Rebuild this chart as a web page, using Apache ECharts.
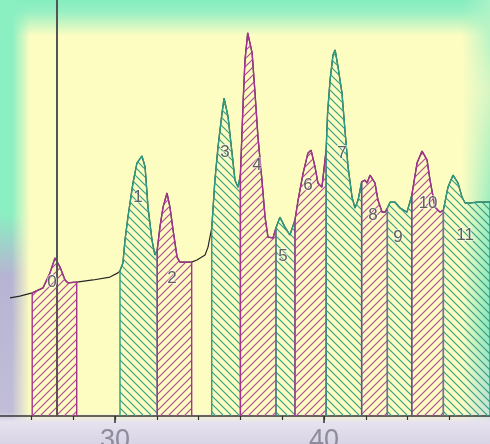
<!DOCTYPE html>
<html>
<head>
<meta charset="utf-8">
<script src="https://cdn.jsdelivr.net/npm/echarts@6/dist/echarts.min.js"></script>
<style>
html, body { margin: 0; padding: 0; }
#wrap { position: relative; width: 490px; height: 444px; overflow: hidden; background: #fdfdc2; }
.glow { position: absolute; }
#gTop { left: 0; top: 0; width: 490px; height: 40px;
  background: linear-gradient(to bottom, #84eebf 0, #98f0c3 12px, rgba(253,253,194,0) 36px); }
#gLeft { left: 0; top: 0; width: 40px; height: 444px;
  background: linear-gradient(to bottom, #8aefc1 0, #8aefc1 48%, #b6b4d2 62%, #c4c0da 100%);
  -webkit-mask-image: linear-gradient(to right, #000 0, #000 12px, transparent 30px);
  mask-image: linear-gradient(to right, #000 0, #000 12px, transparent 30px); }
#gRight { right: 0; top: 0; width: 40px; height: 444px;
  background: linear-gradient(to bottom, #a8f2c6 0, #d6f6c4 90px, #98ecbf 220px, #86e6bb 330px, #c4e2d6 410px);
  -webkit-mask-image: linear-gradient(to left, #000 0, rgba(0,0,0,.8) 6px, transparent 28px);
  mask-image: linear-gradient(to left, #000 0, rgba(0,0,0,.8) 6px, transparent 28px); }
#gBottom { left: 0; bottom: 0; width: 490px; height: 32px;
  background: linear-gradient(to top, #d8d4e6 0, #e6e2ee 22px, rgba(236,232,239,0) 32px); }
#chart { position: absolute; left: 0; top: 0; width: 490px; height: 444px; }
</style>
</head>
<body>
<div id="wrap">
  <div class="glow" id="gTop"></div>
  <div class="glow" id="gLeft"></div>
  <div class="glow" id="gRight"></div>
  <div class="glow" id="gBottom"></div>
  <div id="chart"></div>
</div>
<script>
// retention time (min) and detector signal
const times = [
  24.98, 25.45, 26.04, 26.56, 26.89, 27.13, 27.37, 27.61, 27.75, 28.17,
  28.95, 29.76, 30.14, 30.24, 30.38, 30.48, 30.62, 30.86, 31.05, 31.29,
  31.44, 31.58, 31.77, 31.91, 32.02, 32.15, 32.30, 32.49, 32.63, 32.78,
  32.97, 33.11, 33.67, 33.92, 34.31, 34.45, 34.63, 34.78, 34.93, 35.12,
  35.22, 35.41, 35.60, 35.74, 35.89, 36.00, 36.14, 36.22, 36.35, 36.56,
  36.70, 36.84, 37.03, 37.18, 37.32, 37.56, 37.70, 37.89, 38.13, 38.37,
  38.61, 38.76, 39.00, 39.23, 39.38, 39.57, 39.71, 39.90, 40.10, 40.17,
  40.29, 40.43, 40.53, 40.67, 40.86, 41.00, 41.15, 41.34, 41.48, 41.63,
  41.80, 41.96, 42.06, 42.20, 42.44, 42.58, 42.78, 42.92, 43.03, 43.16,
  43.40, 43.64, 43.97, 44.20, 44.45, 44.69, 44.93, 45.07, 45.31, 45.55,
  45.71, 45.93, 46.17, 46.41, 46.60, 46.75, 46.99, 47.32, 47.94
];
const signal = [
  28.4, 28.8, 29.6, 30.8, 34.4, 38.0, 35.8, 32.7, 32.0, 32.2,
  32.7, 33.4, 34.4, 34.9, 36.8, 42.3, 47.8, 56.0, 60.8, 62.5,
  59.9, 50.2, 42.3, 38.7, 39.9, 45.4, 50.2, 53.6, 50.2, 44.7,
  38.2, 37.0, 37.0, 37.5, 38.7, 40.6, 45.2, 56.7, 64.7, 72.8,
  76.4, 71.9, 63.2, 56.7, 55.0, 58.0, 76.7, 85.6, 92.1, 87.3,
  77.6, 67.1, 56.7, 47.8, 43.0, 42.8, 45.2, 47.8, 45.4, 43.5,
  47.1, 51.9, 58.4, 63.2, 63.9, 59.9, 56.0, 55.0, 63.9, 72.8,
  80.8, 86.8, 88.0, 83.9, 77.6, 68.8, 59.9, 52.6, 50.0, 51.9,
  56.3, 56.7, 56.0, 57.9, 56.0, 51.9, 49.0, 49.0, 50.0, 51.4,
  51.4, 50.0, 49.0, 53.1, 60.8, 63.7, 61.5, 56.7, 50.2, 49.0,
  49.5, 55.0, 57.9, 56.0, 52.6, 51.2, 51.2, 51.4, 51.4
];

// integrated peaks
const peakNames = ['0', '1', '2', '3', '4', '5', '6', '7', '8', '9', '10', '11'];
const peakStart = [26.04, 30.24, 32.02, 34.63, 36.00, 37.70, 38.61, 40.10, 41.80, 43.03, 44.20, 45.71];
const peakEnd   = [28.17, 32.02, 33.67, 36.00, 37.70, 38.61, 40.10, 41.80, 43.03, 44.20, 45.71, 47.94];
const labelTimes   = [26.99, 31.10, 32.73, 35.26, 36.79, 38.04, 39.23, 40.86, 42.34, 43.54, 44.98, 46.75];
const labelHeights = [32.2, 52.6, 33.2, 63.5, 60.3, 38.5, 55.5, 63.2, 48.3, 43.0, 51.2, 43.5];

const majorTicks = [30, 40];
const minorTicks = [26, 28, 30, 32, 34, 36, 38, 40, 42, 44, 46];
const markerTime = 27.22;

function hatch(color, dir) {
  const c = document.createElement('canvas');
  c.width = 8; c.height = 8;
  const g = c.getContext('2d');
  g.strokeStyle = color;
  g.lineWidth = 1.2;
  g.beginPath();
  if (dir > 0) {
    g.moveTo(-2, 10); g.lineTo(10, -2);
    g.moveTo(-2, 2); g.lineTo(2, -2);
    g.moveTo(6, 10); g.lineTo(10, 6);
  } else {
    g.moveTo(-2, -2); g.lineTo(10, 10);
    g.moveTo(6, -2); g.lineTo(10, 2);
    g.moveTo(-2, 6); g.lineTo(2, 10);
  }
  g.stroke();
  return c;
}

const pink = '#a23490';
const teal = '#2e9a7e';
const pinkHatch = hatch('#b04c98', 1);
const tealHatch = hatch('#35a086', -1);

const chart = echarts.init(document.getElementById('chart'));

const trace = times.map((t, i) => [t, signal[i]]);

const peakSeries = peakNames.map((name, k) => {
  const a = peakStart[k], b = peakEnd[k];
  const pts = trace.filter(p => p[0] >= a - 1e-6 && p[0] <= b + 1e-6);
  const even = k % 2 === 0;
  return {
    type: 'line',
    name: 'peak ' + name,
    data: [[a, 0]].concat(pts, [[b, 0]]),
    showSymbol: false,
    lineStyle: { color: even ? pink : teal, width: 1.4 },
    areaStyle: { color: { image: even ? pinkHatch : tealHatch, repeat: 'repeat' }, opacity: 1 },
    z: 3,
    silent: true
  };
});

const xBase = {
  type: 'value',
  min: 24.5,
  max: 47.94,
  splitLine: { show: false }
};

chart.setOption({
  animation: false,
  backgroundColor: 'transparent',
  grid: { left: 0, right: 0, top: 0, bottom: 28, outerBoundsMode: 'none', containLabel: false },
  xAxis: [
    Object.assign({}, xBase, {
      axisLine: { show: true, lineStyle: { color: '#333', width: 1.5 } },
      axisTick: { show: true, customValues: majorTicks, length: 7, lineStyle: { color: '#333', width: 1.5 } },
      axisLabel: {
        customValues: majorTicks, margin: 11,
        fontSize: 27, color: '#8c8c9c', fontFamily: 'Liberation Sans, Arial, sans-serif'
      }
    }),
    Object.assign({}, xBase, {
      position: 'bottom',
      axisLine: { show: false },
      axisTick: { show: true, customValues: minorTicks, length: 4, lineStyle: { color: '#333', width: 1.2 } },
      axisLabel: { show: false }
    })
  ],
  yAxis: { type: 'value', min: 0, max: 100, show: false, splitLine: { show: false } },
  series: [
    {
      type: 'line',
      name: 'trace',
      data: trace,
      showSymbol: false,
      lineStyle: { color: '#262626', width: 1.2 },
      z: 2,
      silent: true,
      markLine: {
        silent: true,
        symbol: ['none', 'none'],
        label: { show: false },
        lineStyle: { color: '#555', width: 2, type: 'solid' },
        data: [{ xAxis: markerTime }]
      }
    }
  ].concat(peakSeries, [
    {
      type: 'scatter',
      name: 'labels',
      data: labelTimes.map((t, i) => [t, labelHeights[i]]),
      symbolSize: 1,
      itemStyle: { color: 'rgba(0,0,0,0)' },
      z: 5,
      silent: true,
      label: {
        show: true,
        position: 'inside',
        formatter: p => peakNames[p.dataIndex],
        fontSize: 17,
        color: '#3a3a3a',
        fontFamily: 'Liberation Sans, Arial, sans-serif',
        textBorderColor: 'rgba(255,255,255,0.7)',
        textBorderWidth: 2
      },
      labelLayout: { hideOverlap: false }
    }
  ])
});
</script>
</body>
</html>
